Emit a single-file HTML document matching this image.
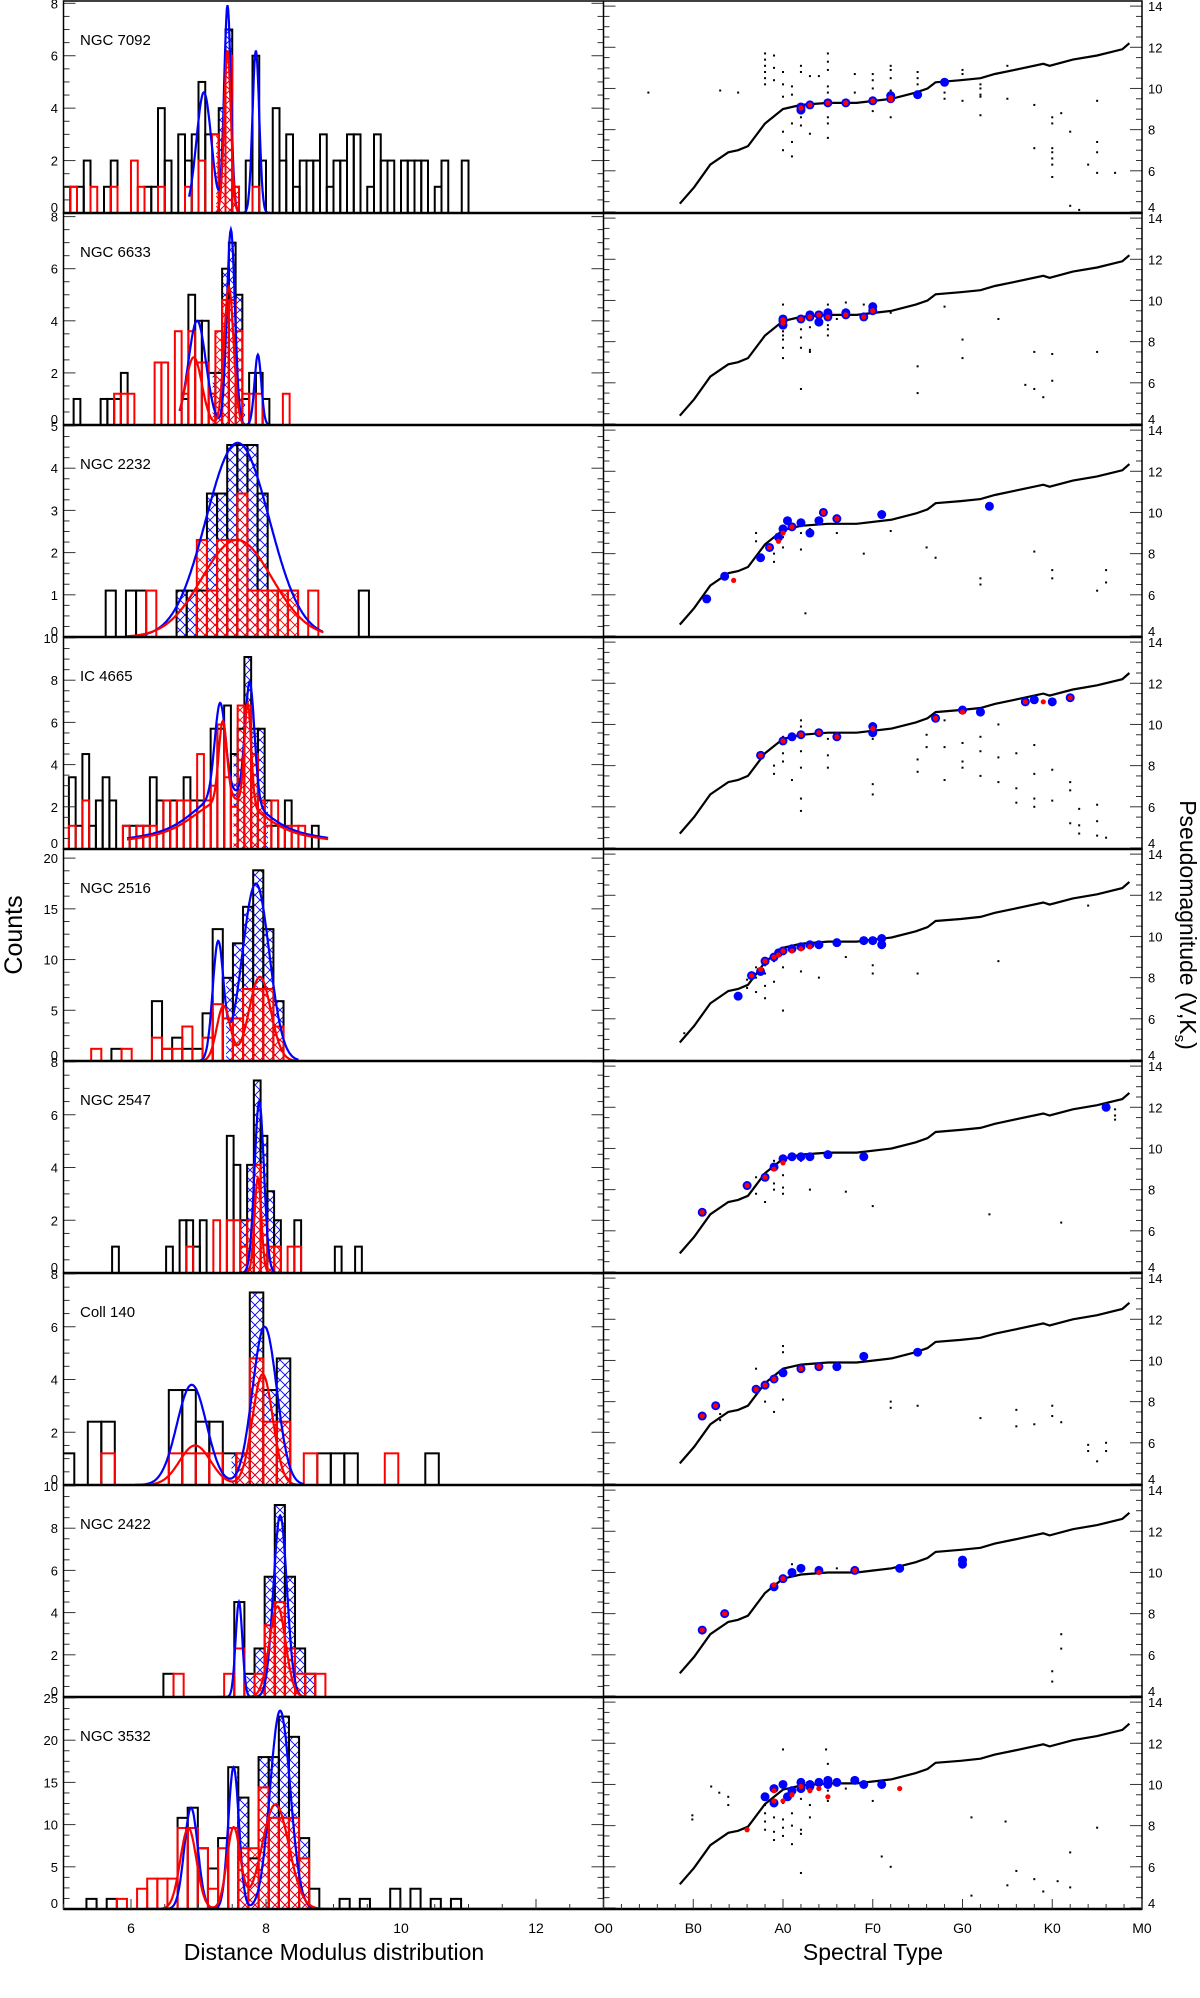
<!DOCTYPE html>
<html><head><meta charset="utf-8">
<style>
html,body{margin:0;padding:0;background:#fff;}
svg{display:block;font-family:"Liberation Sans",Arial,sans-serif;}
</style></head>
<body>
<svg id="fig" xmlns="http://www.w3.org/2000/svg" width="1200" height="1998" viewBox="0 0 1200 1998">
<defs>
<pattern id="hatchBlue" patternUnits="userSpaceOnUse" width="10" height="10"><path d="M0,0L10,10M0,10L10,0" stroke="#0000ff" stroke-width="0.9" fill="none"/></pattern>
<pattern id="hatchRed" patternUnits="userSpaceOnUse" width="10" height="10"><path d="M0,0L10,10M0,10L10,0" stroke="#ff0000" stroke-width="0.9" fill="none"/></pattern>
</defs>
<text x="22" y="935" font-size="25" text-anchor="middle" transform="rotate(-90 22 935)">Counts</text>
<text x="1180" y="925" font-size="23" text-anchor="middle" transform="rotate(90 1180 925)">Pseudomagnitude (V,K<tspan font-size="15" dy="5">s</tspan><tspan dy="-5">)</tspan></text>
<text x="334" y="1960" font-size="23" text-anchor="middle">Distance Modulus distribution</text>
<text x="873" y="1960" font-size="23" text-anchor="middle">Spectral Type</text>
</svg>
<script>
// ---------- data ----------
const panelNames=["NGC 7092","NGC 6633","NGC 2232","IC 4665","NGC 2516","NGC 2547","Coll 140","NGC 2422","NGC 3532"];
const yMaxes=[8.05,8.1,5.0,10,20.8,8,8,10,25];
const yTickSteps=[2,2,1,2,5,2,2,2,5];
const binStarts=[5.0,5.15,5.625,5.08,5.41,5.72,4.96,6.48,5.34];
const binWidths=[0.1,0.1,0.15,0.1,0.15,0.1,0.2,0.15,0.15];
const blackCounts=[
[1,1,1,2,0,0,1,2,0,0,0,0,1,1,4,2,0,3,2,3,5,3,3,4,7,1,0,2,6,2,0,4,2,3,1,2,2,2,3,1,2,2,3,3,0,1,3,2,2,0,2,2,2,2,0,1,2,0,0,2],
[1,0,0,0,1,1,1,2,0,0,0,0,0,0,0,0,1,5,4,4,2,2,6,7,5,1,2,2,1],
[1.1,0,1.1,1.1,0,0,0,1.1,1.1,1.1,3.4,3.4,4.55,4.55,4.55,3.4,1.1,1.1,1.1,0,0,0,0,0,0,1.1],
[3.4,1.1,4.5,1.1,2.3,3.4,2.3,0,1.1,1.1,1.1,1.1,3.4,2.3,2.3,2.3,2.3,3.4,2.3,2.3,2.3,5.7,5.7,6.8,4.5,5.7,9.1,5.7,5.7,2.3,1.1,1.1,2.3,0,0,0,1.1],
[0,0,1.2,0,0,0,5.9,1.2,2.3,1.2,1.2,4.7,13,8.2,11.6,15.2,18.8,13,5.9],
[1,0,0,0,0,0,0,0,1,0,2,2,1,2,0,0,0,5.2,4.1,2,4.1,7.3,5.2,3.1,2,0,0,2,0,0,0,0,0,1,0,0,1],
[1.2,0,2.4,2.4,0,0,0,0,3.6,3.6,2.4,2.4,1.2,1.2,7.3,3.6,4.8,0,0,1.2,1.2,1.2,0,0,0,0,0,1.2],
[1.1,0,0,0,0,0,0,4.5,1.1,2.3,5.7,9.1,5.7,2.3,1.1],
[1.2,0,1.2,0,0,0,0,0,0,10.8,12,7.2,4.8,8.4,16.8,13.2,6,18,18,22.8,20.4,8.4,2.4,0,0,1.2,0,1.2,0,0,2.4,0,2.4,0,1.2,0,1.2]
];
const redCounts=[
[0,1,0,0,1,0,0,1,0,0,2,1,0,0,1,0,0,0,1,0,2,0,3,2,6,1,0,0,1],
[0,0,0,0,0,0,1.2,1.2,1.2,0,0,0,2.4,2.4,0,3.6,1.2,3.6,2.4,2.4,1.2,3.6,4.8,4.8,3.6,1.2,1.2,1.2,0,0,0,1.2],
[0,0,0,0,1.1,0,0,0,0,2.3,1.1,2.3,2.3,3.4,1.1,1.1,1.1,1.1,1.1,0,1.1],
[1.1,0,2.3,0,0,0,0,0,1.1,0,1.1,1.1,1.1,0,2.3,0,2.3,2.3,0,4.5,2.3,3.0,5.9,3.4,2.0,6.8,6.8,4.5,2.3,1.1,2.3,1.1,1.1,1.1,1.1],
[1.2,0,0,1.2,0,0,2.3,1.2,1.2,3.4,0,2.3,5.6,4.2,4.2,7.1,7.1,7.1,3.4],
[0,0,0,0,0,0,0,0,0,0,0,1,0,0,0,2,0,2,2,1,2,4.1,2,1,1,0,1,1],
[0,0,0,1.2,0,0,0,0,1.2,1.2,1.2,1.2,0,1.2,4.8,2.4,2.4,0,1.2,0,0,0,0,0,1.2],
[0,1.1,0,0,0,0,1.1,2.3,0,1.1,3.4,4.5,2.3,1.1,1.1,1.1],
[0,0,0,1.2,0,2.4,3.6,3.6,3.6,9.6,9.6,7.2,2.4,7.2,9.6,7.2,7.2,14.4,10.8,10.8,10.8,6.0]
];
// gaussian fit components [center, amplitude, sigma]
const blueFits=[
[[7.08,4.6,0.11],[7.43,7.9,0.05],[7.85,6.2,0.05]],
[[6.98,4.0,0.13],[7.48,7.5,0.06],[7.88,2.7,0.05]],
[[7.58,4.6,0.47]],
[[7.32,4.3,0.08],[7.76,5.6,0.07],[7.45,1.8,0.45],[7.45,0.9,1.4]],
[[7.29,11.5,0.08],[7.85,17.5,0.2]],
[[7.9,6.5,0.07]],
[[6.9,3.8,0.22],[7.98,6.0,0.18]],
[[7.6,4.5,0.05],[8.21,8.6,0.1]],
[[6.89,12,0.1],[7.52,16.8,0.08],[8.21,23.5,0.15]]
];
const redFits=[
[[7.43,6.2,0.05]],
[[6.93,2.6,0.12],[7.45,5.3,0.07]],
[[7.57,2.3,0.52]],
[[7.36,3.7,0.06],[7.73,4.8,0.05],[7.45,1.6,0.45],[7.45,0.8,1.4]],
[[7.37,5.4,0.1],[7.91,8.3,0.16]],
[[7.88,3.6,0.05]],
[[6.95,1.5,0.23],[7.95,4.2,0.15]],
[[8.17,4.3,0.12]],
[[6.85,9.6,0.12],[7.52,9.6,0.1],[8.14,12.4,0.2]]
];
const blueFitRanges=[[6.86,8.06],[6.72,8.04],[6.08,8.84],[5.94,8.92],[6.96,8.48],[7.63,8.3],[6.06,8.56],[7.27,8.8],[6.2,13]];
const redFitRanges=[[7.24,7.65],[6.72,7.9],[5.94,8.85],[5.94,8.92],[6.96,8.48],[7.66,8.23],[6.06,8.56],[7.6,8.75],[6.2,13]];
const blueHatch=[[7.28,7.61],[7.21,7.69],[6.69,8.03],[7.52,8.03],[7.41,8.25],[7.62,8.22],[7.49,8.36],[7.71,8.74],[7.57,8.64]];
const redHatch=[[7.26,7.62],[7.21,7.66],[6.99,8.48],[7.52,7.98],[7.48,8.25],[7.62,8.2],[7.57,8.36],[7.85,8.5],[7.57,8.64]];
const distTicks=[6,8,10,12];
// right panels: spectral index (O0=0,B0=10,...,M0=60) and pseudomagnitude
const specLabels=["O0","B0","A0","F0","G0","K0","M0"];
const seqS=[8.5,10.1,11.9,13.9,15,16.1,18,20,22,25,28.2,32.1,34.8,36.1,37,39.8,42,43.6,45.8,49,49.7,52.3,55,57.8,58.6];
const seqM=[4.4,5.2,6.3,6.9,7.0,7.2,8.3,9.0,9.2,9.3,9.3,9.5,9.8,10.0,10.3,10.4,10.5,10.7,10.9,11.2,11.1,11.4,11.6,11.9,12.2];
const seqOffsets=[0,0,0.15,0.3,0.45,0.5,0.6,0.7,0.75];
const magTicks=[4,6,8,10,12,14];
const bluePts=[
[[22,9.1],[22,8.95],[23,9.2],[25,9.3],[27,9.3],[30,9.4],[32,9.5],[32,9.65],[35,9.7],[38,10.3]],
[[20,9.0],[20,8.8],[20,9.1],[22,9.1],[23,9.3],[23,9.2],[24,9.3],[24,8.95],[25,9.4],[25,9.2],[27,9.3],[27,9.4],[29,9.2],[30,9.7],[30,9.5]],
[[11.5,5.8],[13.5,6.9],[17.5,7.8],[18.5,8.3],[19.5,8.8],[20,9.2],[20.5,9.6],[21,9.3],[22,9.5],[23,9.0],[24,9.6],[24.5,10.0],[26,9.7],[31,9.9],[43,10.3]],
[[17.5,8.5],[20,9.2],[21,9.4],[22,9.5],[24,9.6],[26,9.4],[30,9.9],[30,9.6],[37,10.3],[40,10.7],[42,10.6],[47,11.1],[48,11.2],[50,11.1],[52,11.3]],
[[15,7.1],[16.5,8.1],[17.5,8.3],[18,8.8],[19,9.0],[19.5,9.2],[20,9.3],[21,9.4],[22,9.5],[23,9.6],[24,9.6],[26,9.7],[29,9.8],[30,9.8],[31,9.9],[31,9.6]],
[[11,6.9],[16,8.2],[18,8.6],[19,9.1],[20,9.5],[21,9.6],[22,9.6],[23,9.6],[25,9.7],[29,9.6],[56,12]],
[[11,7.3],[12.5,7.8],[17,8.6],[18,8.8],[19,9.1],[20,9.4],[22,9.6],[24,9.7],[26,9.7],[29,10.2],[35,10.4]],
[[11,7.2],[13.5,8.0],[19,9.3],[20,9.7],[21,10.0],[22,10.2],[24,10.1],[28,10.1],[33,10.2],[40,10.6],[40,10.4]],
[[18,9.4],[19,9.8],[19,9.1],[20,10.0],[20.5,9.4],[21,9.7],[22,10.1],[22,9.8],[23,9.9],[23,10.0],[24,10.1],[25,10.0],[25,10.2],[26,10.1],[28,10.2],[29,10.0],[31,10.0]]
];
const redPts=[
[[22,9.05],[23,9.2],[25,9.3],[27,9.3],[30,9.4],[32,9.55],[32,9.45]],
[[20,8.9],[20,9.05],[22,9.1],[23,9.2],[24,9.3],[25,9.2],[27,9.3],[29,9.2],[30,9.5]],
[[14.5,6.7],[18.5,8.3],[19.5,8.6],[20,9.0],[21,9.3],[24.5,10.0],[26,9.7]],
[[17.5,8.5],[20,9.2],[22,9.5],[24,9.6],[26,9.4],[30,9.8],[37,10.3],[40,10.6],[47,11.1],[49,11.1],[52,11.3]],
[[16.5,8.1],[17.5,8.4],[18,8.8],[19,9.0],[19.5,9.1],[20,9.3],[21,9.3],[22,9.4],[23,9.5]],
[[11,6.9],[16,8.2],[18,8.6],[19,9.0],[20,9.3]],
[[11,7.3],[12.5,7.8],[17,8.6],[18,8.8],[19,9.1],[22,9.6],[24,9.7]],
[[11,7.2],[13.5,8.0],[19,9.4],[20,9.7],[24,10.0],[28,10.1]],
[[19,9.7],[19,9.2],[20,9.2],[21,9.5],[22,9.9],[23,9.7],[24,9.8],[25,9.4],[16,7.8],[33,9.8]]
];
const fieldPts=[
[[5,9.8],[13,9.9],[15,9.8],[18,11.7],[18,11.4],[18,11.1],[18,10.8],[18,10.5],[18,10.2],[19,11.6],[19,11.0],[19,10.4],[20,10.8],[20,10.2],[20,9.6],[20,7.9],[20,7.0],[21,10.1],[21,9.7],[21,8.3],[21,7.4],[21,6.7],[22,11.1],[22,10.8],[22,8.6],[22,8.2],[23,10.6],[23,7.8],[24,10.6],[25,11.7],[25,11.3],[25,10.9],[25,10.1],[25,9.8],[25,8.6],[25,8.3],[25,7.6],[28,10.7],[28,9.8],[30,10.7],[30,10.4],[30,10.0],[30,8.9],[32,11.1],[32,10.9],[32,10.5],[32,9.9],[32,8.6],[35,10.8],[35,10.5],[35,10.2],[38,9.8],[38,9.5],[40,10.9],[40,10.7],[40,9.4],[42,10.2],[42,10.0],[42,9.7],[42,9.6],[42,8.7],[45,11.1],[45,9.5],[48,9.2],[48,7.1],[50,8.6],[50,8.3],[50,7.1],[50,6.9],[50,6.6],[50,6.3],[50,5.7],[51,8.8],[52,7.9],[52,4.3],[53,4.1],[54,6.3],[55,9.4],[55,7.4],[55,6.9],[55,5.9],[57,5.9]],
[[20,9.8],[20,8.5],[20,8.3],[20,8.1],[20,7.7],[20,7.2],[22,8.6],[22,8.2],[22,7.7],[22,5.7],[23,8.7],[23,7.6],[23,7.5],[25,9.8],[25,8.8],[25,8.6],[25,8.3],[26,9.1],[27,9.9],[29,9.8],[32,9.4],[35,6.8],[35,5.5],[38,9.7],[40,8.1],[40,7.2],[44,9.1],[47,5.9],[48,7.5],[48,5.7],[49,5.3],[50,7.4],[50,6.1],[55,7.5]],
[[17,9.0],[17,8.6],[19,8.0],[19,7.6],[20,8.8],[20,8.3],[22,9.0],[22,8.2],[22.5,5.1],[23,9.2],[26,9.0],[29,8.0],[32,9.1],[36,8.3],[37,7.8],[42,6.8],[42,6.5],[48,8.1],[50,7.2],[50,6.8],[55,6.2],[56,7.2],[56,6.6]],
[[19,8.0],[19,7.6],[20,9.4],[20,8.6],[20,8.2],[21,7.3],[22,10.2],[22,9.9],[22,8.7],[22,7.9],[22,6.4],[22,5.8],[25,9.3],[25,8.5],[25,7.9],[30,9.8],[30,9.3],[30,7.1],[30,6.6],[35,8.3],[35,7.7],[36,9.5],[36,8.9],[38,10.2],[38,8.9],[38,7.3],[40,9.1],[40,8.2],[40,7.9],[42,9.4],[42,8.7],[42,7.5],[44,10.0],[44,8.4],[44,7.2],[46,8.6],[46,6.9],[46,6.2],[48,9.0],[48,7.6],[48,6.4],[48,6.0],[50,7.8],[50,6.3],[52,7.2],[52,6.8],[52,5.2],[53,5.9],[53,5.1],[53,4.7],[55,6.1],[55,5.3],[55,4.6],[56,4.5]],
[[9,5.3],[16,7.9],[16,7.5],[17,8.5],[17,8.0],[17,7.3],[18,8.6],[18,8.2],[18,7.6],[18,7.0],[19,8.8],[19,7.8],[20,9.2],[20,8.5],[20,6.4],[22,8.3],[24,8.0],[27,9.0],[30,8.6],[30,8.2],[35,8.2],[44,8.8],[54,11.5]],
[[17,8.6],[17,7.8],[18,7.4],[19,9.4],[19,8.3],[19,8.0],[20,8.7],[20,8.1],[20,7.8],[22,9.4],[23,8.0],[25,9.8],[27,7.9],[30,7.2],[43,6.8],[51,6.4],[57,11.9],[57,11.6],[57,11.4]],
[[13,7.4],[13,7.1],[17,9.6],[17,8.6],[18,8.0],[19,7.5],[20,10.7],[20,10.4],[20,8.1],[22,9.6],[26,9.9],[32,8.0],[32,7.7],[35,7.8],[42,7.2],[46,6.8],[46,7.6],[48,6.9],[50,7.3],[50,7.8],[51,7.0],[54,5.9],[54,5.6],[55,5.1],[56,6.0],[56,5.6]],
[[21,10.4],[26,10.2],[30,10.1],[50,5.2],[50,4.7],[51,6.3],[51,7.0]],
[[9.9,8.5],[9.9,8.3],[12,9.9],[12.9,9.6],[13.9,9.4],[13.9,9.0],[18,9.0],[18,8.6],[18,8.2],[18,7.8],[19,8.4],[19,7.7],[19,7.3],[20,11.7],[20,9.1],[20,8.3],[20,7.9],[20,7.5],[21,8.6],[21,8.0],[21,7.1],[22,9.3],[22,7.8],[22,7.6],[22,5.7],[23,9.0],[23,8.4],[25,9.7],[25,9.4],[25,9.2],[25,11.0],[24.8,11.7],[27,9.8],[30,9.2],[31,6.5],[32,6.0],[41,8.4],[41,4.6],[44.8,8.2],[45,5.1],[46,5.8],[48,5.4],[49,4.8],[50.6,5.3],[52,5.0],[52,6.7],[55,7.9]]
];

// ---------- drawing ----------
const NS="http://www.w3.org/2000/svg";
const svg=document.getElementById('fig');
function mk(tag,attrs,parent){const e=document.createElementNS(NS,tag);for(const k in attrs)e.setAttribute(k,attrs[k]);(parent||svg).appendChild(e);return e;}
const LX0=63.5,LX1=603.5,RX0=603.5,RX1=1142,PH=212,TOP0=1;
function dx(m){return LX0+(m-5)*(LX1-LX0)/8;}
function sx(s){return RX0+s*(RX1-RX0)/60;}
function gauss(comps,m){let v=0;for(const c of comps){v+=c[1]*Math.exp(-0.5*Math.pow((m-c[0])/c[2],2));}return v;}

for(let k=0;k<9;k++){
  const top=TOP0+PH*k, bot=top+PH;
  const ymax=yMaxes[k];
  const ly=v=>bot-v/ymax*(PH-1);
  const ry=m=>bot-(m-3.95)/(14.2-3.95)*(PH-1);
  const g=mk('g',{});
  
  
  const cp=mk('clipPath',{id:'clipL'+k},g);
  mk('rect',{x:LX0,y:top,width:LX1-LX0,height:PH},cp);
  const hg=mk('g',{'clip-path':'url(#clipL'+k+')'},g);
  
  
  function hatch(counts,start,w,rng,fill,name){
    counts.forEach((c,i)=>{
      const a=Math.max(start+i*w,rng[0]), b=Math.min(start+(i+1)*w,rng[1]);
      if(c>0&&b>a){
        const r=mk('rect',{x:dx(a),y:ly(c),width:dx(b)-dx(a),height:bot-ly(c),fill:fill,stroke:'none'},hg);
        
        
      }
    });
  }
  hatch(blackCounts[k],binStarts[k],binWidths[k],blueHatch[k],'url(#hatchBlue)','blue-hatch');
  hatch(redCounts[k],binStarts[k],binWidths[k],redHatch[k],'url(#hatchRed)','red-hatch');
  function bars(counts,col,name){
    counts.forEach((c,i)=>{
      if(c>0){
        const a=binStarts[k]+i*binWidths[k];
        const r=mk('rect',{x:dx(a),y:ly(c),width:dx(a+binWidths[k])-dx(a),height:bot-ly(c),fill:'none',stroke:col,'stroke-width':2},hg);
        
        
      }
    });
  }
  bars(blackCounts[k],'#000','black-bar');
  bars(redCounts[k],'#f00','red-bar');
  function curve(comps,rng,col,name){
    let d='';
    for(let m=rng[0];m<=rng[1]+1e-9;m+=0.01){d+=(d?'L':'M')+dx(m).toFixed(1)+','+ly(gauss(comps,m)).toFixed(1);}
    const p=mk('path',{d:d,fill:'none',stroke:col,'stroke-width':2.2},hg);
    
    
  }
  curve(blueFits[k],blueFitRanges[k],'#0000ff','blue-fit-curve');
  curve(redFits[k],redFitRanges[k],'#ff0000','red-fit-curve');
  const step=yTickSteps[k];
  for(let v=0;v<=ymax+1e-6;v+=step/4){
    const major=Math.abs(v/step-Math.round(v/step))<1e-6;
    const len=major?12:6;
    mk('line',{x1:LX0,x2:LX0+len,y1:ly(v),y2:ly(v),stroke:'#333','stroke-width':1},g);
    mk('line',{x1:LX1,x2:LX1-len,y1:ly(v),y2:ly(v),stroke:'#333','stroke-width':1},g);
    if(major){
      const t=mk('text',{x:58,y:Math.min(ly(v)+5,bot-1),'font-size':13,'text-anchor':'end'},g);
      t.textContent=String(Math.round(v));
      
      
    }
  }
  const nm=mk('text',{x:80,y:top+44,'font-size':15},g);
  nm.textContent=panelNames[k];
  
  

  const rg=mk('g',{},g);
  
  
  for(let m=4;m<=14.01;m+=0.5){
    const major=Math.abs(m-2*Math.round(m/2))<1e-6;
    const len=major?12:6;
    mk('line',{x1:RX0,x2:RX0+len,y1:ry(m),y2:ry(m),stroke:'#333','stroke-width':1},rg);
    mk('line',{x1:RX1,x2:RX1-len,y1:ry(m),y2:ry(m),stroke:'#333','stroke-width':1},rg);
  }
  magTicks.forEach(m=>{
    const t=mk('text',{x:1148,y:Math.min(ry(m)+5,bot-1),'font-size':13},rg);
    t.textContent=String(m);
    
    
  });
  fieldPts[k].forEach(p=>{
    const r=mk('rect',{x:sx(p[0])-1,y:ry(p[1])-1,width:2,height:2,fill:'#000'},rg);
    
    
  });
  let d='';
  seqS.forEach((s,i)=>{d+=(i?'L':'M')+sx(s).toFixed(1)+','+ry(seqM[i]+seqOffsets[k]).toFixed(1);});
  const seq=mk('path',{d:d,fill:'none',stroke:'#000','stroke-width':2.2},rg);
  
  
  bluePts[k].forEach(p=>{
    const c=mk('circle',{cx:sx(p[0]),cy:ry(p[1]),r:4.5,fill:'#0000ff'},rg);
    
    
  });
  redPts[k].forEach(p=>{
    const c=mk('circle',{cx:sx(p[0]),cy:ry(p[1]),r:2.6,fill:'#ff0000'},rg);
    
    
  });
  const fr=mk('rect',{x:LX0,y:top,width:RX1-LX0,height:PH,fill:'none',stroke:'#000','stroke-width':1.5},g);
  
  
  mk('line',{x1:LX0,x2:RX1,y1:bot,y2:bot,stroke:'#000','stroke-width':2.5},g);
  mk('line',{x1:LX1,x2:LX1,y1:top,y2:bot,stroke:'#000','stroke-width':1.5},g);
}
const bot9=TOP0+PH*9;
for(let m=5;m<=13.001;m+=0.5){
  const major=Math.abs(m/2-Math.round(m/2))<1e-6;
  mk('line',{x1:dx(m),x2:dx(m),y1:bot9,y2:bot9-(major?10:5),stroke:'#333','stroke-width':1});
}
distTicks.forEach(m=>{
  const t=mk('text',{x:dx(m),y:1933,'font-size':14,'text-anchor':'middle'});
  t.textContent=String(m);
  
  
});
for(let s=0;s<=60;s+=2){
  mk('line',{x1:sx(s),x2:sx(s),y1:bot9,y2:bot9-(s%10===0?10:5),stroke:'#333','stroke-width':1});
}
specLabels.forEach((l,i)=>{
  const t=mk('text',{x:sx(i*10),y:1933,'font-size':14,'text-anchor':'middle'});
  t.textContent=l;
  
  
});
</script>
</body></html>
